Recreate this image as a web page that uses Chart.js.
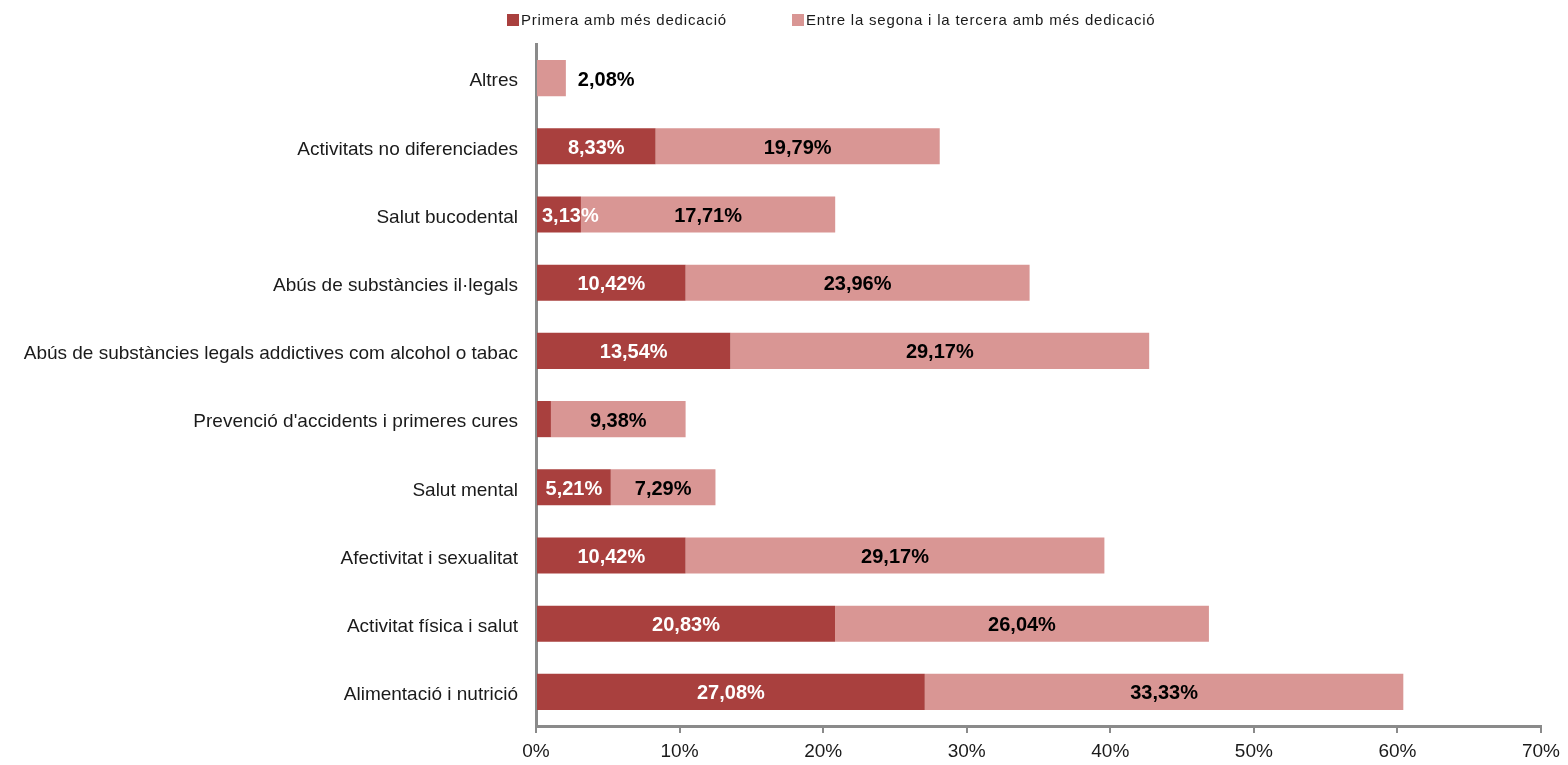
<!DOCTYPE html>
<html lang="ca">
<head>
<meta charset="utf-8">
<script src="https://cdn.jsdelivr.net/npm/chart.js@4/dist/chart.umd.min.js"></script>
<style>
  html, body { margin: 0; padding: 0; background: #ffffff; }
  #wrap { width: 1568px; height: 765px; position: relative; }
</style>
</head>
<body>
<div id="wrap"><canvas id="chart" width="1568" height="765"></canvas></div>
<script>
// Àmbits de treball (de dalt a baix)
const categories = [
  "Altres",
  "Activitats no diferenciades",
  "Salut bucodental",
  "Abús de substàncies il·legals",
  "Abús de substàncies legals addictives com alcohol o tabac",
  "Prevenció d'accidents i primeres cures",
  "Salut mental",
  "Afectivitat i sexualitat",
  "Activitat física i salut",
  "Alimentació i nutrició"
];
// Percentatge de centres: primera opció
const primera = [0, 8.33, 3.13, 10.42, 13.54, 1.04, 5.21, 10.42, 20.83, 27.08];
// Percentatge de centres: segona o tercera opció
const segonaTercera = [2.08, 19.79, 17.71, 23.96, 29.17, 9.38, 7.29, 29.17, 26.04, 33.33];
const seriesNames = ["Primera amb més dedicació", "Entre la segona i la tercera amb més dedicació"];
const xTicks = [0, 10, 20, 30, 40, 50, 60, 70];

const DARK = "#A9403E";
const LIGHT = "#D99694";
const AXIS = "#8A8A8A";
const FONT = "'Liberation Sans', Arial, sans-serif";

const fmt = v => v.toFixed(2).replace(".", ",") + "%";

// Etiquetes de valor sobre cada segment
const valueLabels = {
  id: "valueLabels",
  afterDatasetsDraw(chart) {
    const ctx = chart.ctx;
    ctx.save();
    ctx.font = "bold 20px " + FONT;
    ctx.textBaseline = "middle";
    chart.data.datasets.forEach((ds, di) => {
      const meta = chart.getDatasetMeta(di);
      meta.data.forEach((bar, i) => {
        const v = ds.data[i];
        if (v < 2) return;
        const txt = fmt(v);
        const w = ctx.measureText(txt).width;
        const left = Math.min(bar.base, bar.x);
        const right = Math.max(bar.base, bar.x);
        let cx = (left + right) / 2;
        ctx.textAlign = "center";
        if (di === 0) {
          ctx.fillStyle = "#ffffff";
          cx = Math.max(cx, left + w / 2 + 5);
          ctx.fillText(txt, cx, bar.y + 2);
        } else {
          ctx.fillStyle = "#000000";
          if (right - left < w + 8) {
            ctx.textAlign = "left";
            ctx.fillText(txt, right + 12, bar.y + 2);
          } else {
            ctx.fillText(txt, cx, bar.y + 2);
          }
        }
      });
    });
    ctx.restore();
  }
};

// Llegenda superior
const topLegend = {
  id: "topLegend",
  afterDraw(chart) {
    const ctx = chart.ctx;
    ctx.save();
    ctx.font = "15px " + FONT;
    ctx.letterSpacing = "0.8px";
    ctx.textBaseline = "middle";
    ctx.textAlign = "left";
    const starts = [507, 792];
    chart.data.datasets.forEach((ds, di) => {
      const x = starts[di];
      ctx.fillStyle = ds.backgroundColor;
      ctx.fillRect(x, 14, 12, 12);
      ctx.fillStyle = "#1a1a1a";
      ctx.fillText(ds.label, x + 14, 20.5);
    });
    ctx.restore();
  }
};

new Chart(document.getElementById("chart"), {
  type: "bar",
  data: {
    labels: categories,
    datasets: [
      { label: seriesNames[0], data: primera, backgroundColor: DARK, borderWidth: 0 },
      { label: seriesNames[1], data: segonaTercera, backgroundColor: LIGHT, borderWidth: 0 }
    ]
  },
  options: {
    indexAxis: "y",
    responsive: false,
    animation: false,
    layout: { padding: { top: 44, right: 27, left: 0, bottom: 0 } },
    datasets: { bar: { categoryPercentage: 1, barPercentage: 0.53 } },
    plugins: { legend: { display: false }, tooltip: { enabled: false } },
    scales: {
      x: {
        stacked: true,
        min: 0,
        max: 70,
        afterBuildTicks(scale) { scale.ticks = xTicks.map(v => ({ value: v })); },
        afterFit(scale) { scale.height = 39; },
        ticks: {
          callback: v => v + "%",
          color: "#1a1a1a",
          font: { family: FONT, size: 19 },
          padding: 7,
          maxRotation: 0
        },
        grid: { drawOnChartArea: false, drawTicks: true, tickLength: 7, color: AXIS, lineWidth: 2 },
        border: { color: AXIS, width: 3 }
      },
      y: {
        stacked: true,
        afterFit(scale) { scale.width = 536; },
        ticks: {
          color: "#1a1a1a",
          font: { family: FONT, size: 19 },
          padding: 10,
          labelOffset: 3,
          autoSkip: false
        },
        grid: { display: false },
        border: { color: AXIS, width: 3 }
      }
    }
  },
  plugins: [valueLabels, topLegend]
});
</script>
</body>
</html>
